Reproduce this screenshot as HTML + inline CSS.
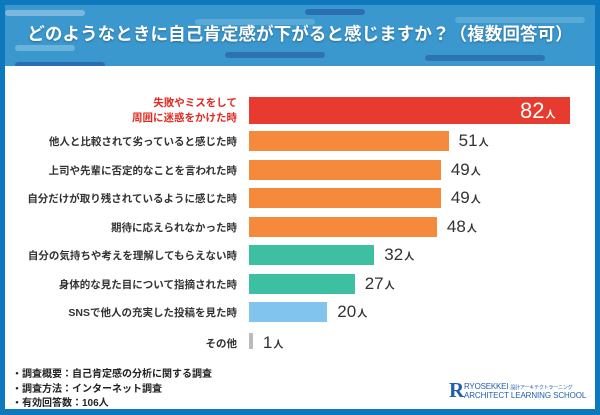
<!DOCTYPE html>
<html><head><meta charset="utf-8"><style>
body{margin:0;width:600px;height:415px;overflow:hidden;font-family:"Liberation Sans","Noto Sans CJK JP",sans-serif;}
#frame{position:absolute;left:0;top:0;width:600px;height:415px;background:#0d78be;}
#head{position:absolute;left:5px;top:5px;width:590px;height:61px;background:#3b98cf;overflow:hidden;}
.streak{position:absolute;height:6px;border-radius:3px;}
#title{position:absolute;left:0;top:16px;width:590px;text-align:center;color:#fff;font-weight:bold;font-size:17.6px;letter-spacing:0;white-space:nowrap;text-shadow:0 1px 2px rgba(0,0,0,0.3);}
#panel{position:absolute;left:5px;top:66px;width:590px;height:343px;background:#fff;}
.lbl{position:absolute;right:363px;font-size:10.5px;font-weight:bold;color:#333;text-align:right;white-space:nowrap;}
.val{position:absolute;font-size:17px;color:#333;white-space:nowrap;}
.val small{font-size:10px;font-weight:bold;margin-left:1px;}
.note{position:absolute;left:12px;font-size:10px;font-weight:bold;color:#222;}
</style></head><body>
<div id="frame"></div>
<div id="head">
<div class="streak" style="left:0;top:5px;width:80px;background:#7ab8e0"></div>
<div class="streak" style="left:300px;top:4px;width:60px;background:#2a6fb0"></div>
<div class="streak" style="left:190px;top:14px;width:120px;background:#5aaad8"></div>
<div class="streak" style="left:450px;top:12px;width:130px;background:#5aaad8"></div>
<div class="streak" style="left:10px;top:40px;width:60px;background:#6ab3dd"></div>
<div class="streak" style="left:220px;top:47px;width:100px;background:#2f72b3"></div>
<div class="streak" style="left:420px;top:50px;width:120px;background:#2f72b3"></div>
<div class="streak" style="left:10px;top:57px;width:90px;background:#2a6fb0"></div>
<div id="title">どのようなときに自己肯定感が下がると感じますか？（複数回答可）</div>
</div>
<div id="panel"></div>
<div id="chart"></div>
<div class="note" style="top:365px">・調査概要：自己肯定感の分析に関する調査</div>
<div class="note" style="top:380px">・調査方法：インターネット調査</div>
<div class="note" style="top:394px">・有効回答数：106人</div>
<div style="position:absolute;left:449px;top:381px;color:#1f5fae;white-space:nowrap;">
<span style="position:absolute;left:0;top:-1px;font-size:21px;line-height:21px;font-weight:bold;font-family:'Liberation Serif',serif">R</span>
<span style="position:absolute;left:15px;top:1px;font-size:8px;letter-spacing:-0.2px;">RYOSEKKEI <span style="font-size:5px">設計アーキテクトラーニング</span></span>
<span style="position:absolute;left:15px;top:10px;font-size:8px;letter-spacing:-0.1px;">ARCHITECT LEARNING SCHOOL</span>
</div>
<script>
const categories=["失敗やミスをして\n周囲に迷惑をかけた時","他人と比較されて劣っていると感じた時","上司や先輩に否定的なことを言われた時","自分だけが取り残されているように感じた時","期待に応えられなかった時","自分の気持ちや考えを理解してもらえない時","身体的な見た目について指摘された時","SNSで他人の充実した投稿を見た時","その他"];
const values=[82,51,49,49,48,32,27,20,1];
const colors=["#e63b2e","#f58a3c","#f58a3c","#f58a3c","#f58a3c","#3dbfa2","#3dbfa2","#82c5ec","#bbbbbb"];
const x0=249, scale=321/82;
function xs(v){return v*scale;}
function rowTop(i){return i===0?97:131+(i-1)*28.5;}
const c=document.getElementById('chart');
categories.forEach((cat,i)=>{
 const h=i===0?27:(i===8?16:20);
 const y=rowTop(i)+(i===8?2:0);
 const b=document.createElement('div');
 
 
 const w=Math.max(xs(values[i]),3);
 b.style.cssText=`position:absolute;left:${x0}px;top:${y}px;width:${w}px;height:${h}px;background:${colors[i]}`;
 c.appendChild(b);
 const l=document.createElement('div');
 
 
 l.className='lbl';
 if(i===0){l.style.color='#e02a1f';l.style.top=(y-1)+'px';l.style.lineHeight='15px';l.innerHTML=cat.replace('\n','<br>');}
 else{l.style.top=(y+3)+'px';l.textContent=cat;}
 c.appendChild(l);
 const v=document.createElement('div');
 
 
 v.className='val';
 v.innerHTML=values[i]+'<small>人</small>';
 if(i===0){v.style.color='#fff';v.style.fontSize='22px';v.style.top=(y+1)+'px';v.style.left=(x0+w-50)+'px';}
 else{v.style.top=(y)+'px';v.style.left=(x0+w+10)+'px';}
 c.appendChild(v);
});
</script>
</body></html>
